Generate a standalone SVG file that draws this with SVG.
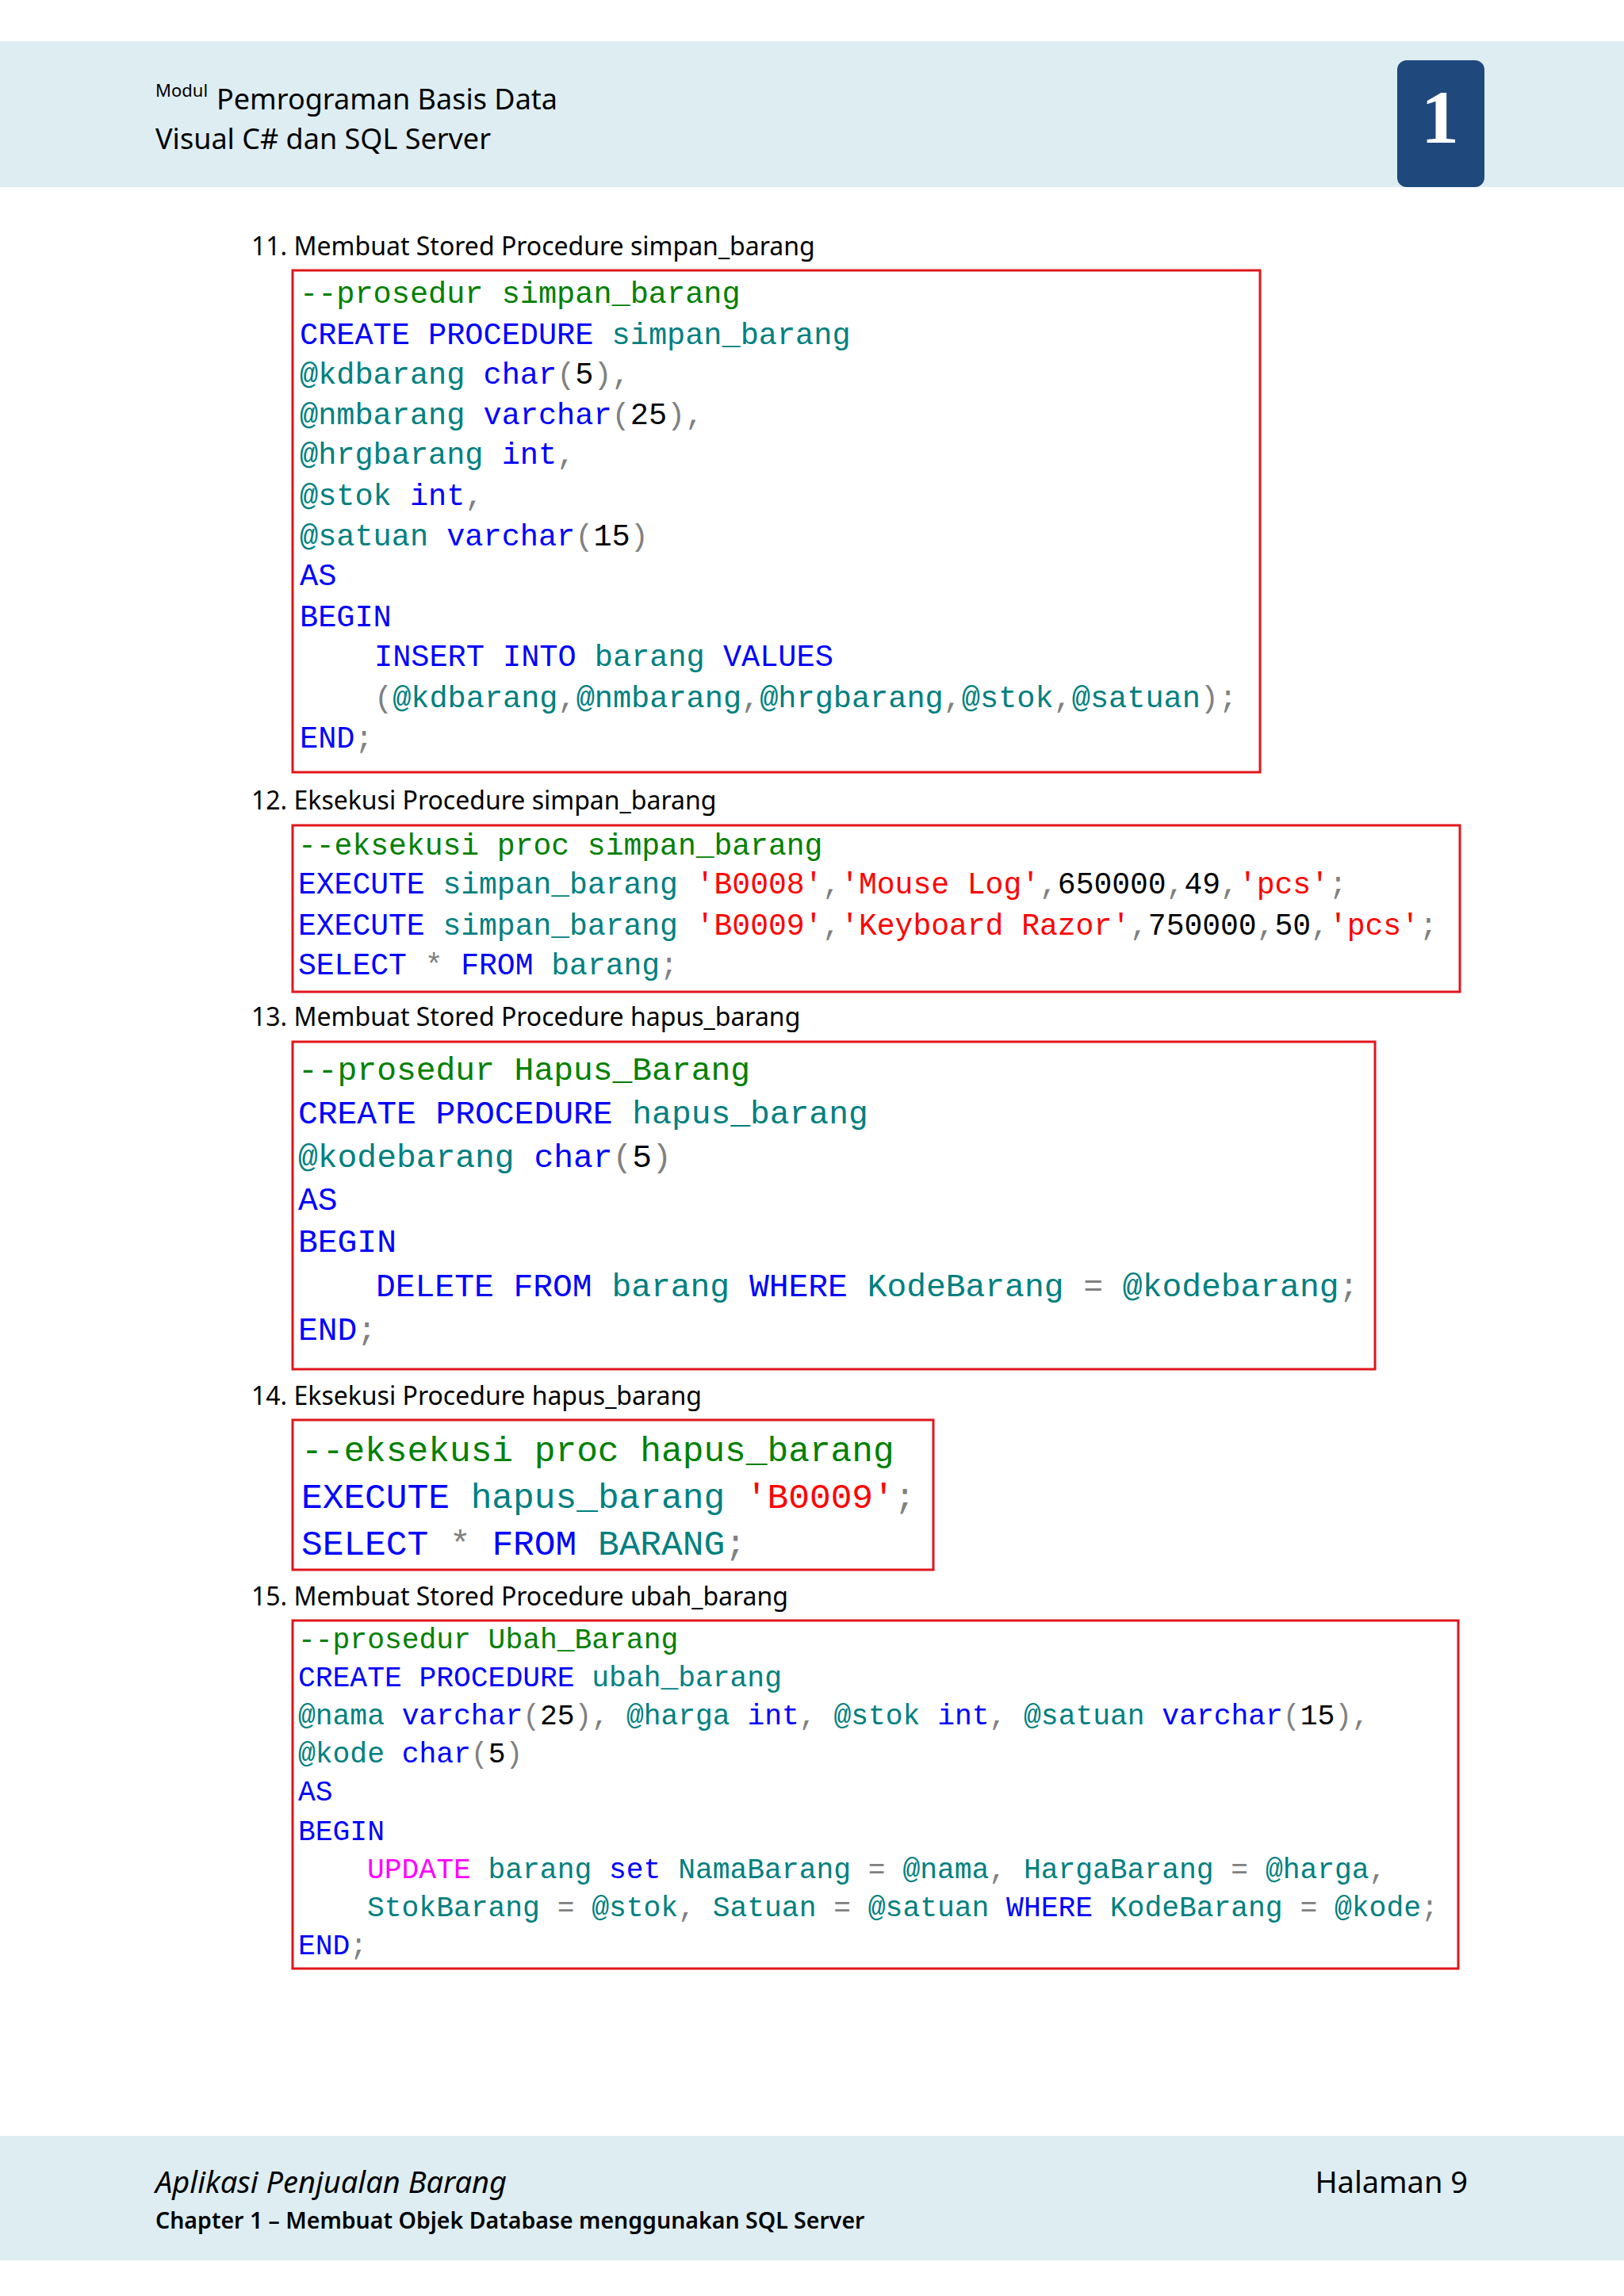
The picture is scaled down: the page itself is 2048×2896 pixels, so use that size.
<svg xmlns="http://www.w3.org/2000/svg" width="2048" height="2896" viewBox="0 0 2048 2896">
<style>
.h{font-family:"Noto Sans","Open Sans",sans-serif;fill:#000}
.m{font-family:"Liberation Mono","DejaVu Sans Mono",monospace;fill:#000}
.box{fill:#fff;stroke:#e0161c;stroke-width:3}
.c{fill:#008000}.k{fill:#0000ff}.i{fill:#008080}.s{fill:#ff0000}.g{fill:#808080}.p{fill:#ff00ff}
</style>
<rect width="2048" height="2896" fill="#fff"/>
<g id="header">
<rect x="0" y="52" width="2048" height="184" fill="#deedf2"/>
<text class="h" x="196" y="122" font-size="22">Modul</text>
<text class="h" x="273" y="138" font-size="36">Pemrograman Basis Data</text>
<text class="h" x="196" y="188" font-size="36">Visual C# dan SQL Server</text>
<rect x="1762" y="76" width="110" height="160" rx="12" fill="#1f497d"/>
<text x="1816" y="180" font-size="96" font-weight="bold" text-anchor="middle" fill="#fff" font-family="Liberation Serif,serif">1</text>
</g>
<g id="footer">
<rect x="0" y="2694" width="2048" height="157" fill="#deedf2"/>
<text class="h" x="196" y="2766" font-size="38" font-style="italic">Aplikasi Penjualan Barang</text>
<text class="h" x="196" y="2811" font-size="28.5" font-weight="600">Chapter 1 – Membuat Objek Database menggunakan SQL Server</text>
<text class="h" x="1851" y="2766" font-size="38" text-anchor="end">Halaman 9</text>
</g>
<g id="headings" class="h" font-size="32">
<text x="317" y="322">11. Membuat Stored Procedure simpan_barang</text>
<text x="317" y="1021">12. Eksekusi Procedure simpan_barang</text>
<text x="317" y="1294">13. Membuat Stored Procedure hapus_barang</text>
<text x="317" y="1772">14. Eksekusi Procedure hapus_barang</text>
<text x="317" y="2025">15. Membuat Stored Procedure ubah_barang</text>
</g>
<g id="box1">
<rect class="box" x="369" y="341" width="1220" height="633"/>
<text class="m" font-size="38.6" xml:space="preserve">
<tspan x="378" y="382" class="c">--prosedur simpan_barang</tspan>
<tspan x="378" y="434"><tspan class="k">CREATE PROCEDURE</tspan> <tspan class="i">simpan_barang</tspan></tspan>
<tspan x="378" y="484"><tspan class="i">@kdbarang</tspan> <tspan class="k">char</tspan><tspan class="g">(</tspan>5<tspan class="g">),</tspan></tspan>
<tspan x="378" y="535"><tspan class="i">@nmbarang</tspan> <tspan class="k">varchar</tspan><tspan class="g">(</tspan>25<tspan class="g">),</tspan></tspan>
<tspan x="378" y="585"><tspan class="i">@hrgbarang</tspan> <tspan class="k">int</tspan><tspan class="g">,</tspan></tspan>
<tspan x="378" y="637"><tspan class="i">@stok</tspan> <tspan class="k">int</tspan><tspan class="g">,</tspan></tspan>
<tspan x="378" y="688"><tspan class="i">@satuan</tspan> <tspan class="k">varchar</tspan><tspan class="g">(</tspan>15<tspan class="g">)</tspan></tspan>
<tspan x="378" y="738" class="k">AS</tspan>
<tspan x="378" y="790" class="k">BEGIN</tspan>
<tspan x="472" y="840"><tspan class="k">INSERT INTO</tspan> <tspan class="i">barang</tspan> <tspan class="k">VALUES</tspan></tspan>
<tspan x="472" y="892"><tspan class="g">(</tspan><tspan class="i">@kdbarang</tspan><tspan class="g">,</tspan><tspan class="i">@nmbarang</tspan><tspan class="g">,</tspan><tspan class="i">@hrgbarang</tspan><tspan class="g">,</tspan><tspan class="i">@stok</tspan><tspan class="g">,</tspan><tspan class="i">@satuan</tspan><tspan class="g">);</tspan></tspan>
<tspan x="378" y="943"><tspan class="k">END</tspan><tspan class="g">;</tspan></tspan>
</text>
</g>
<g id="box2">
<rect class="box" x="369" y="1041" width="1472" height="210"/>
<text class="m" font-size="38" xml:space="preserve">
<tspan x="376" y="1078" class="c">--eksekusi proc simpan_barang</tspan>
<tspan x="376" y="1127"><tspan class="k">EXECUTE</tspan> <tspan class="i">simpan_barang</tspan> <tspan class="s">'B0008'</tspan><tspan class="g">,</tspan><tspan class="s">'Mouse Log'</tspan><tspan class="g">,</tspan>650000<tspan class="g">,</tspan>49<tspan class="g">,</tspan><tspan class="s">'pcs'</tspan><tspan class="g">;</tspan></tspan>
<tspan x="376" y="1179"><tspan class="k">EXECUTE</tspan> <tspan class="i">simpan_barang</tspan> <tspan class="s">'B0009'</tspan><tspan class="g">,</tspan><tspan class="s">'Keyboard Razor'</tspan><tspan class="g">,</tspan>750000<tspan class="g">,</tspan>50<tspan class="g">,</tspan><tspan class="s">'pcs'</tspan><tspan class="g">;</tspan></tspan>
<tspan x="376" y="1229"><tspan class="k">SELECT</tspan> <tspan class="g">*</tspan> <tspan class="k">FROM</tspan> <tspan class="i">barang</tspan><tspan class="g">;</tspan></tspan>
</text>
</g>
<g id="box3">
<rect class="box" x="369" y="1314" width="1365" height="413"/>
<text class="m" font-size="41.3" xml:space="preserve">
<tspan x="376" y="1362" class="c">--prosedur Hapus_Barang</tspan>
<tspan x="376" y="1417"><tspan class="k">CREATE PROCEDURE</tspan> <tspan class="i">hapus_barang</tspan></tspan>
<tspan x="376" y="1472"><tspan class="i">@kodebarang</tspan> <tspan class="k">char</tspan><tspan class="g">(</tspan>5<tspan class="g">)</tspan></tspan>
<tspan x="376" y="1526" class="k">AS</tspan>
<tspan x="376" y="1579" class="k">BEGIN</tspan>
<tspan x="474" y="1635"><tspan class="k">DELETE FROM</tspan> <tspan class="i">barang</tspan> <tspan class="k">WHERE</tspan> <tspan class="i">KodeBarang</tspan> <tspan class="g">=</tspan> <tspan class="i">@kodebarang</tspan><tspan class="g">;</tspan></tspan>
<tspan x="376" y="1690"><tspan class="k">END</tspan><tspan class="g">;</tspan></tspan>
</text>
</g>
<g id="box4">
<rect class="box" x="369" y="1791" width="808" height="189"/>
<text class="m" font-size="44.5" xml:space="preserve">
<tspan x="380" y="1843" class="c">--eksekusi proc hapus_barang</tspan>
<tspan x="380" y="1902"><tspan class="k">EXECUTE</tspan> <tspan class="i">hapus_barang</tspan> <tspan class="s">'B0009'</tspan><tspan class="g">;</tspan></tspan>
<tspan x="380" y="1961"><tspan class="k">SELECT</tspan> <tspan class="g">*</tspan> <tspan class="k">FROM</tspan> <tspan class="i">BARANG</tspan><tspan class="g">;</tspan></tspan>
</text>
</g>
<g id="box5">
<rect class="box" x="369" y="2044" width="1470" height="439"/>
<text class="m" font-size="36.3" xml:space="preserve">
<tspan x="376" y="2079" class="c">--prosedur Ubah_Barang</tspan>
<tspan x="376" y="2127"><tspan class="k">CREATE PROCEDURE</tspan> <tspan class="i">ubah_barang</tspan></tspan>
<tspan x="376" y="2175"><tspan class="i">@nama</tspan> <tspan class="k">varchar</tspan><tspan class="g">(</tspan>25<tspan class="g">),</tspan> <tspan class="i">@harga</tspan> <tspan class="k">int</tspan><tspan class="g">,</tspan> <tspan class="i">@stok</tspan> <tspan class="k">int</tspan><tspan class="g">,</tspan> <tspan class="i">@satuan</tspan> <tspan class="k">varchar</tspan><tspan class="g">(</tspan>15<tspan class="g">),</tspan></tspan>
<tspan x="376" y="2223"><tspan class="i">@kode</tspan> <tspan class="k">char</tspan><tspan class="g">(</tspan>5<tspan class="g">)</tspan></tspan>
<tspan x="376" y="2271" class="k">AS</tspan>
<tspan x="376" y="2321" class="k">BEGIN</tspan>
<tspan x="463" y="2369"><tspan class="p">UPDATE</tspan> <tspan class="i">barang</tspan> <tspan class="k">set</tspan> <tspan class="i">NamaBarang</tspan> <tspan class="g">=</tspan> <tspan class="i">@nama</tspan><tspan class="g">,</tspan> <tspan class="i">HargaBarang</tspan> <tspan class="g">=</tspan> <tspan class="i">@harga</tspan><tspan class="g">,</tspan></tspan>
<tspan x="463" y="2417"><tspan class="i">StokBarang</tspan> <tspan class="g">=</tspan> <tspan class="i">@stok</tspan><tspan class="g">,</tspan> <tspan class="i">Satuan</tspan> <tspan class="g">=</tspan> <tspan class="i">@satuan</tspan> <tspan class="k">WHERE</tspan> <tspan class="i">KodeBarang</tspan> <tspan class="g">=</tspan> <tspan class="i">@kode</tspan><tspan class="g">;</tspan></tspan>
<tspan x="376" y="2465"><tspan class="k">END</tspan><tspan class="g">;</tspan></tspan>
</text>
</g>
</svg>
